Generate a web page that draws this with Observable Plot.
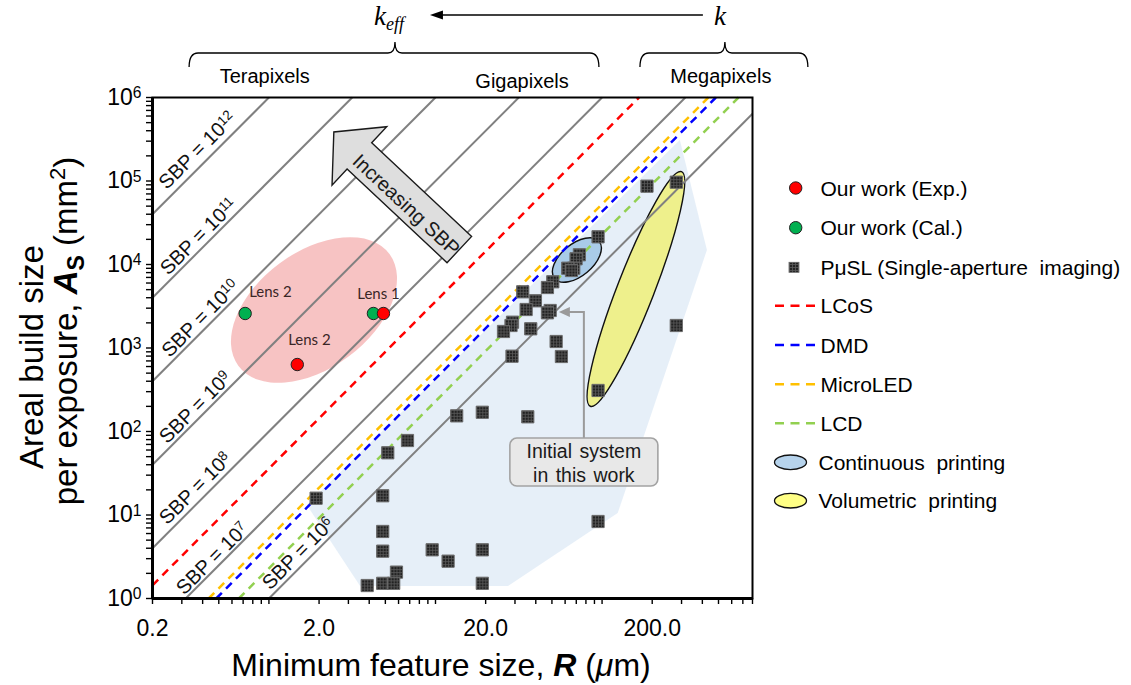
<!DOCTYPE html>
<html>
<head>
<meta charset="utf-8">
<script src="https://cdn.jsdelivr.net/npm/d3@7"></script>
<script src="https://cdn.jsdelivr.net/npm/@observablehq/plot@0.6"></script>
<style>
html,body{margin:0;padding:0;background:#fff;}
#chart{width:1131px;height:685px;}
#chart svg text{white-space:pre;}
g[aria-label="x-axis tick"], g[aria-label="y-axis tick"]{stroke-width:1.4px;}
</style>
</head>
<body>
<div id="chart"></div>
<script>
// ---------------- data ----------------
const xDomain = [0.2, 800];
const yDomain = [1, 1e6];

const xMajorTicks = [0.2, 2, 20, 200];
const xMajorLabels = ["0.2", "2.0", "20.0", "200.0"];
const yMajorTicks = [1, 10, 100, 1000, 10000, 100000, 1000000];
const yMajorLabels = ["10^0", "10^1", "10^2", "10^3", "10^4", "10^5", "10^6"];

// iso-SBP lines (SBP = A[mm^2]*1e6 / R[um]^2)
const sbpExponents = [6, 7, 8, 9, 10, 11, 12];
const sbpLabelR = [1.50, 0.458, 0.362, 0.362, 0.388, 0.378, 0.373];
const sbpLabelA = [3.46, 3.01, 20.8, 194, 2255, 21600, 232000];

// device limits
const deviceNames = ["LCoS", "DMD", "MicroLED", "LCD"];
const deviceSBP = [3.6e7, 4.3e6, 5.3e6, 2.3e6];

// our work
const expNames = ["Lens 1", "Lens 2"];
const expR = [4.87, 1.48];
const expA = [2590, 634];
const calNames = ["Lens 2", "Lens 1"];
const calR = [0.72, 4.24];
const calA = [2590, 2590];
const lensLabelText = ["Lens 2", "Lens 1", "Lens 2"];
const lensLabelR = [1.02, 4.55, 1.75];
const lensLabelA = [4620, 4372, 1230];

// PμSL single-aperture imaging
const pslR = [186, 279, 94.6, 73.1, 69.8, 67.6, 62.2, 65.5, 50.6, 47.0, 33.4, 39.8, 35.0, 48.8, 47.0, 29.0, 28.4, 25.6, 37.3, 53.0, 57.0, 28.8, 94.6, 279, 13.4, 19.1, 35.8, 6.79, 5.17, 1.92, 4.82, 4.82, 4.82, 9.55, 11.9, 19.1, 5.83, 3.89, 4.82, 5.61, 19.1, 94.6];
const pslA = [86700, 96800, 21470, 13070, 11700, 9030, 9030, 8470, 6210, 5300, 4710, 3675, 2890, 2813, 2640, 2037, 1860, 1577, 1698, 1196, 791, 798, 310, 1860, 154, 170, 150, 78, 55.6, 15.9, 17.0, 6.35, 3.69, 3.83, 2.80, 3.83, 2.07, 1.43, 1.52, 1.52, 1.52, 8.36];

// shaded PμSL coverage region
const coverR = [295, 429, 125, 27.4, 3.55, 1.70];
const coverA = [305500, 14720, 10.4, 1.39, 1.39, 13.0];

// ellipses: centre, end of major axis, minor/major ratio
const ellipseNames = ["Our work", "Continuous printing", "Volumetric printing"];
const ellipseCenterR = [1.877, 71.1, 160.8];
const ellipseCenterA = [2812, 11170, 5020];
const ellipseEndR = [5.33, 96.7, 302];
const ellipseEndA = [13180, 18650, 127400];
const ellipseAspect = [0.617, 0.55, 0.147];

// annotations
const arrowTip = [2.47, 381000], arrowTail = [14.0, 14900];
const calloutBox = [78.3, 42.5], calloutElbow = [78.3, 2661], calloutTip = [55.4, 2661];
const calloutLines = ["Initial system", "in this work"];
const braceNames = ["keff", "k"];
const braceFromR = [0.334, 170], braceToR = [96.4, 1732], braceTipR = [5.75, 550];
const regimeNames = ["Terapixels", "Gigapixels", "Megapixels"];
const regimeR = [0.95, 33.3, 520];

// ---------------- styles ----------------
const SANS = "'Liberation Sans', Arial, Helvetica, sans-serif";
const SERIF = "'Liberation Serif', 'Times New Roman', serif";
const deviceColors = ["#FF0000", "#0000FF", "#FFC000", "#92D050"];
const ellipseFill = ["#F4A9A9", "#A9CBE8", "#EEF08C"];
const ellipseOpacity = [0.7, 1, 1];
const ellipseStroke = ["none", "#111", "#111"];

// ---------------- derived tables ----------------
function isoLine(s) {
  const r1 = Math.max(xDomain[0], Math.sqrt(yDomain[0] * 1e6 / s));
  const r2 = Math.min(xDomain[1], Math.sqrt(yDomain[1] * 1e6 / s));
  return {r1, a1: s * r1 * r1 / 1e6, r2, a2: s * r2 * r2 / 1e6};
}
const sbpTable = sbpExponents.map((k) => isoLine(Math.pow(10, k)));
const sbpLabels = sbpExponents.map((k, i) => ({r: sbpLabelR[i], a: sbpLabelA[i], text: "SBP = 10^" + k}));
const deviceTable = deviceNames.map((n, i) => ({name: n, color: deviceColors[i], ...isoLine(deviceSBP[i])}));
const expTable = expNames.map((n, i) => ({name: n, r: expR[i], a: expA[i]}));
const calTable = calNames.map((n, i) => ({name: n, r: calR[i], a: calA[i]}));
const lensLabels = lensLabelText.map((t, i) => ({text: t, r: lensLabelR[i], a: lensLabelA[i]}));
const pslTable = pslR.map((r, i) => ({r, a: pslA[i]}));

const xTicks = [];
for (const base of [0.1, 1, 10, 100]) for (let m = 1; m <= 9; m++) {
  const v = +(base * m).toPrecision(3);
  if (v >= xDomain[0] - 1e-9 && v <= xDomain[1] + 1e-9) xTicks.push(v);
}
const yTicks = [];
for (let e = 0; e <= 5; e++) for (let m = 1; m <= 9; m++) yTicks.push(m * Math.pow(10, e));
yTicks.push(1e6);
function labelFor(d, majors, labels) {
  const i = majors.findIndex((m) => Math.abs(d - m) < 1e-6 * m);
  return i >= 0 ? labels[i] : "";
}

// ---------------- custom marks ----------------
function getScales(scales) {
  const x = scales && typeof scales.x === "function" ? scales.x : d3.scaleLog(xDomain, [152, 752]);
  const y = scales && typeof scales.y === "function" ? scales.y : d3.scaleLog(yDomain, [598, 97]);
  return {x, y};
}

function underlay(index, scales) {
  const {x, y} = getScales(scales);
  const g = d3.create("svg:g");
  const defs = g.append("defs");
  const pat = defs.append("pattern").attr("id", "pslgrid").attr("patternUnits", "userSpaceOnUse")
    .attr("width", 3).attr("height", 3);
  pat.append("rect").attr("width", 3).attr("height", 3).attr("fill", "#222");
  pat.append("path").attr("d", "M0,0.5H3M0.5,0V3").attr("stroke", "#5a5a5a").attr("stroke-width", 0.8);

  g.append("path")
    .attr("d", "M" + coverR.map((r, i) => x(r) + "," + y(coverA[i])).join("L") + "Z")
    .attr("fill", "#DCE8F5").attr("fill-opacity", 0.7);

  ellipseNames.forEach((n, i) => {
    const cx = x(ellipseCenterR[i]), cy = y(ellipseCenterA[i]);
    const ex = x(ellipseEndR[i]), ey = y(ellipseEndA[i]);
    const a = Math.hypot(ex - cx, ey - cy);
    const ang = Math.atan2(ey - cy, ex - cx) * 180 / Math.PI;
    g.append("ellipse").attr("cx", cx).attr("cy", cy).attr("rx", a).attr("ry", a * ellipseAspect[i])
      .attr("transform", `rotate(${ang},${cx},${cy})`)
      .attr("fill", ellipseFill[i]).attr("fill-opacity", ellipseOpacity[i])
      .attr("stroke", ellipseStroke[i]).attr("stroke-width", 1.4);
  });
  return g.node();
}

function annotations(index, scales) {
  const {x, y} = getScales(scales);
  const g = d3.create("svg:g");
  // Increasing SBP block arrow
  const T = [x(arrowTip[0]), y(arrowTip[1])], C = [x(arrowTail[0]), y(arrowTail[1])];
  const L = Math.hypot(T[0] - C[0], T[1] - C[1]);
  const d = [(T[0] - C[0]) / L, (T[1] - C[1]) / L], nrm = [-d[1], d[0]];
  const headLen = 35, headHalf = 40, bodyHalf = 18;
  const B = [T[0] - d[0] * headLen, T[1] - d[1] * headLen];
  const P = (p, k) => [p[0] + nrm[0] * k, p[1] + nrm[1] * k];
  const pts = [P(C, bodyHalf), P(B, bodyHalf), P(B, headHalf), T, P(B, -headHalf), P(B, -bodyHalf), P(C, -bodyHalf)];
  g.append("path").attr("d", "M" + pts.map((p) => p.join(",")).join("L") + "Z")
    .attr("fill", "#DEDEDE").attr("stroke", "#1a1a1a").attr("stroke-width", 1.4).attr("stroke-linejoin", "miter");
  const mid = [(B[0] + C[0]) / 2 - 3, (B[1] + C[1]) / 2 + 2];
  const ang = Math.atan2(C[1] - T[1], C[0] - T[0]) * 180 / Math.PI;
  g.append("text").attr("transform", `translate(${mid[0]},${mid[1]}) rotate(${ang})`)
    .attr("text-anchor", "middle").attr("dy", "0.35em")
    .attr("font-family", SANS).attr("font-size", 20).attr("fill", "#1a1a1a").text("Increasing SBP");

  // callout "Initial system in this work"
  const bx = x(calloutBox[0]), by = y(calloutBox[1]);
  const exx = x(calloutElbow[0]), eyy = y(calloutElbow[1]);
  const tx = x(calloutTip[0]), ty = y(calloutTip[1]);
  const bw = 148, bh = 48;
  g.append("path").attr("d", `M${exx},${by - bh / 2}V${eyy}H${tx + 9}`)
    .attr("fill", "none").attr("stroke", "#9a9a9a").attr("stroke-width", 2);
  g.append("path").attr("d", `M${tx},${ty}L${tx + 11},${ty - 5}L${tx + 11},${ty + 5}Z`).attr("fill", "#9a9a9a");
  g.append("rect").attr("x", bx - bw / 2).attr("y", by - bh / 2).attr("width", bw).attr("height", bh)
    .attr("rx", 7).attr("fill", "#E8E8E8").attr("stroke", "#A3A3A3").attr("stroke-width", 1.6);
  calloutLines.forEach((t, i) => {
    g.append("text").attr("x", bx).attr("y", by - 4 + i * 23.5).attr("text-anchor", "middle")
      .attr("font-family", SANS).attr("font-size", 19.5).attr("word-spacing", "2px").attr("fill", "#1a1a1a").text(t);
  });
  return g.node();
}

function overlay(index, scales) {
  const {x} = getScales(scales);
  const g = d3.create("svg:g").attr("font-family", SANS).attr("fill", "#000");

  // top: k -> k_eff arrow
  const kx = x(braceTipR[1]), kex = x(braceTipR[0]);
  const k1 = g.append("text").attr("x", kex - 6).attr("y", 25).attr("text-anchor", "middle")
    .attr("font-family", SERIF).attr("font-style", "italic").attr("font-size", 27);
  k1.append("tspan").text("k");
  k1.append("tspan").attr("dy", 5).attr("font-size", 18).text("eff");
  g.append("text").attr("x", kx - 5).attr("y", 25).attr("text-anchor", "middle")
    .attr("font-family", SERIF).attr("font-style", "italic").attr("font-size", 27).text("k");
  g.append("line").attr("x1", kx - 22).attr("x2", kex + 45).attr("y1", 15).attr("y2", 15)
    .attr("stroke", "#000").attr("stroke-width", 1.4);
  g.append("path").attr("d", `M${kex + 35},15L${kex + 48},10.5L${kex + 48},19.5Z`).attr("fill", "#000");

  // braces
  braceNames.forEach((n, i) => {
    const x1 = x(braceFromR[i]), x2 = x(braceToR[i]), xt = x(braceTipR[i]);
    const yb = 53, yt = 42, ye = 67;
    g.append("path").attr("d",
      `M${x1},${ye}Q${x1},${yb} ${x1 + 9},${yb}L${xt - 7},${yb}Q${xt},${yb} ${xt},${yt}` +
      `Q${xt},${yb} ${xt + 7},${yb}L${x2 - 9},${yb}Q${x2},${yb} ${x2},${ye}`)
      .attr("fill", "none").attr("stroke", "#000").attr("stroke-width", 1.3);
  });
  const regimeY = [83, 88, 83];
  regimeNames.forEach((n, i) => {
    g.append("text").attr("x", x(regimeR[i])).attr("y", regimeY[i]).attr("text-anchor", "middle")
      .attr("font-size", 20).text(n);
  });

  // axis titles
  const xl = g.append("text").attr("x", 441).attr("y", 676).attr("text-anchor", "middle").attr("font-size", 32);
  xl.append("tspan").text("Minimum feature size, ");
  xl.append("tspan").attr("font-weight", "bold").attr("font-style", "italic").text("R");
  xl.append("tspan").text(" (");
  xl.append("tspan").attr("font-style", "italic").text("\u03bc");
  xl.append("tspan").text("m)");

  g.append("text").attr("transform", "translate(43,357) rotate(-90)").attr("text-anchor", "middle")
    .attr("font-size", 33).text("Areal build size");
  const yl = g.append("text").attr("transform", "translate(77,331) rotate(-90)").attr("text-anchor", "middle")
    .attr("font-size", 33);
  yl.append("tspan").text("per exposure, ");
  yl.append("tspan").attr("font-weight", "bold").attr("font-style", "italic").text("A");
  yl.append("tspan").attr("font-weight", "bold").attr("font-size", 23).attr("dy", 7).text("S");
  yl.append("tspan").attr("dy", -7).text(" (mm");
  yl.append("tspan").attr("font-size", 22).attr("dy", -12).text("2");
  yl.append("tspan").attr("dy", 12).text(")");

  // legend
  const lg = g.append("g").attr("font-size", 21).attr("text-anchor", "start");
  const LY = [188, 227.7, 267.3, 305.7, 345, 384.3, 423.3, 462.3, 500.7];
  const LX = 820.5;
  lg.append("circle").attr("cx", 795.7).attr("cy", LY[0]).attr("r", 6.2).attr("fill", "#FF0000").attr("stroke", "#222");
  lg.append("circle").attr("cx", 795.7).attr("cy", LY[1]).attr("r", 6.2).attr("fill", "#00B050").attr("stroke", "#222");
  lg.append("rect").attr("x", 789).attr("y", LY[2] - 5).attr("width", 10).attr("height", 10)
    .attr("fill", "url(#pslgrid)").attr("stroke", "#666").attr("stroke-width", 0.8);
  deviceNames.forEach((n, i) => {
    lg.append("line").attr("x1", 775).attr("x2", 815).attr("y1", LY[3 + i]).attr("y2", LY[3 + i])
      .attr("stroke", deviceColors[i]).attr("stroke-width", 2.5).attr("stroke-dasharray", "9,6.5");
  });
  const legEllFill = ["#B6D3EC", "#FFFF85"];
  [0, 1].forEach((j) => {
    lg.append("ellipse").attr("cx", 790.5).attr("cy", LY[7 + j]).attr("rx", 16).attr("ry", 7.3)
      .attr("fill", legEllFill[j]).attr("stroke", "#111").attr("stroke-width", 1.3);
  });
  const legendText = ["Our work (Exp.)", "Our work (Cal.)", "P\u03bcSL (Single-aperture  imaging)",
    ...deviceNames, "Continuous  printing", "Volumetric  printing"];
  legendText.forEach((t, i) => {
    lg.append("text").attr("x", i >= 7 ? LX - 2 : LX).attr("y", LY[i]).attr("dy", "0.36em")
      .attr("text-anchor", "start").text(t);
  });
  return g.node();
}

// ---------------- plot ----------------
const plot = Plot.plot({
  width: 1131,
  height: 685,
  marginLeft: 152,
  marginRight: 379,
  marginTop: 97,
  marginBottom: 87,
  style: {fontFamily: SANS, fontSize: "23px", color: "#000", background: "#fff"},
  x: {type: "log", domain: xDomain, nice: false, ticks: xTicks, tickFormat: (d) => labelFor(d, xMajorTicks, xMajorLabels),
      tickSize: 6, tickPadding: 15, label: null},
  y: {type: "log", domain: yDomain, nice: false, ticks: yTicks, tickFormat: (d) => labelFor(d, yMajorTicks, yMajorLabels),
      tickSize: 6, tickPadding: 5, label: null},
  marks: [
    underlay,
    Plot.link(sbpTable, {x1: "r1", y1: "a1", x2: "r2", y2: "a2", stroke: "#808080", strokeWidth: 2}),
    Plot.link(deviceTable, {x1: "r1", y1: "a1", x2: "r2", y2: "a2", stroke: "color", strokeWidth: 2.5, strokeDasharray: "8,6"}),
    Plot.frame({stroke: "#000", strokeWidth: 2}),
    Plot.ruleX([xDomain[0]], {stroke: "#000", strokeWidth: 3}),
    Plot.ruleY([yDomain[0]], {stroke: "#000", strokeWidth: 3}),
    Plot.text(sbpLabels, {x: "r", y: "a", text: "text", rotate: -45, fontSize: 20, fill: "#111", fontFamily: SANS}),
    annotations,
    Plot.dot(pslTable, {x: "r", y: "a", symbol: "square", r: 6.9, fill: "url(#pslgrid)", stroke: "#6a6a6a", strokeWidth: 1}),
    Plot.dot(calTable, {x: "r", y: "a", r: 6.2, fill: "#00B050", stroke: "#222", strokeWidth: 1}),
    Plot.dot(expTable, {x: "r", y: "a", r: 6.2, fill: "#FF0000", stroke: "#222", strokeWidth: 1}),
    Plot.text(lensLabels, {x: "r", y: "a", text: "text", fontSize: 15, fill: "#3a2626", fontFamily: "Lato, 'Open Sans', sans-serif"}),
    overlay
  ]
});

// turn "10^k" strings into superscripts
d3.select(plot).selectAll("text").each(function () {
  if (this.querySelector("tspan")) return;
  const t = this.textContent;
  const m = t.match(/^(.*)\^(\d+)$/);
  if (!m) return;
  this.textContent = m[1];
  d3.select(this).append("tspan").attr("dy", "-0.42em").attr("font-size", "0.68em").text(m[2]);
});

document.getElementById("chart").appendChild(plot);
</script>
</body>
</html>
